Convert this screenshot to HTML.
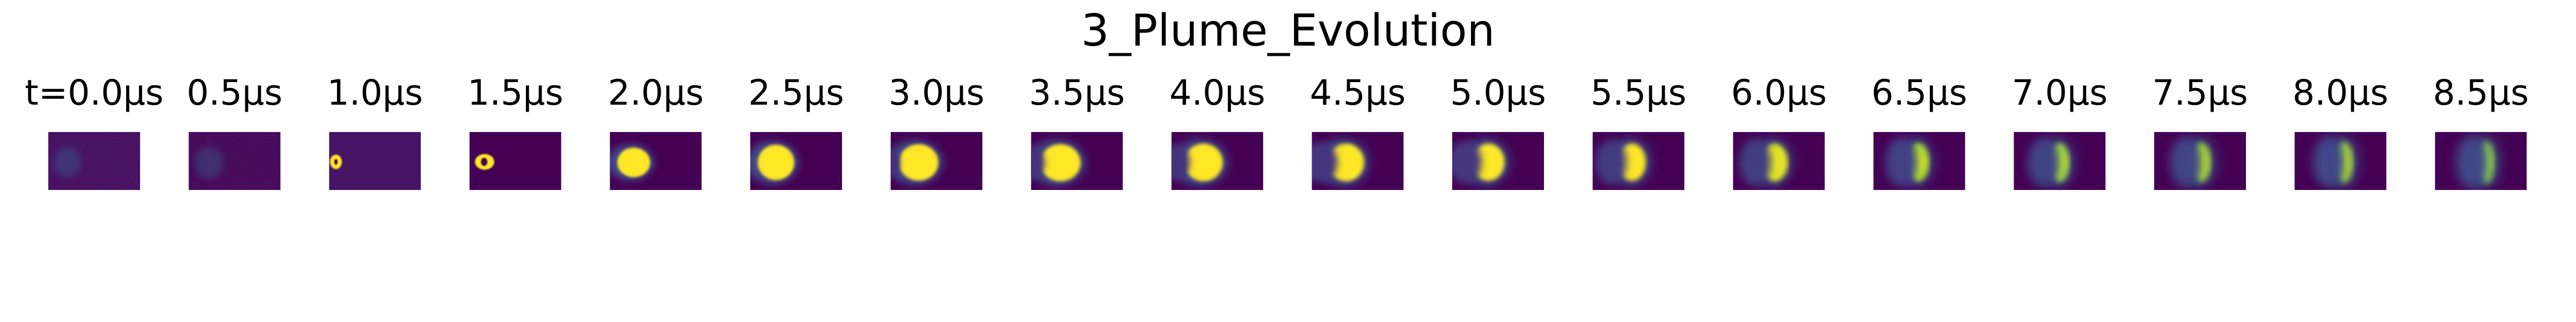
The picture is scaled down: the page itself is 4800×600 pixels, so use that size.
<!DOCTYPE html>
<html><head><meta charset="utf-8"><style>
html,body{margin:0;padding:0;background:#fff;}
svg{display:block;font-family:"DejaVu Sans","Liberation Sans",sans-serif;}
</style></head><body>
<svg id="fig" width="4800" height="600" viewBox="0 0 4800 600" xmlns="http://www.w3.org/2000/svg">
<defs>
<filter id="noise" x="0" y="0" width="100%" height="100%"><feTurbulence type="fractalNoise" baseFrequency="0.9" numOctaves="1" seed="3"/><feColorMatrix type="matrix" values="0 0 0 0 0.2  0 0 0 0 0.3  0 0 0 0 0.55  0 0 0 0.9 -0.35"/></filter>
</defs>
<text x="2400" y="85" font-size="82" text-anchor="middle">3_Plume_Evolution</text>
<g id="frames"></g>
</svg>
<script>
const times = [0.0,0.5,1.0,1.5,2.0,2.5,3.0,3.5,4.0,4.5,5.0,5.5,6.0,6.5,7.0,7.5,8.0,8.5];
const plumeBack  = [0.06,0.06,0.01,0.06,0.08,0.08,0.09,0.10,0.14,0.18,0.22,0.28,0.32,0.38,0.40,0.42,0.45,0.48];
const plumeFront = [0.36,0.38,0.14,0.27,0.44,0.48,0.52,0.54,0.56,0.57,0.57,0.58,0.59,0.60,0.60,0.61,0.63,0.64];
const plumeTop   = [0.25,0.25,0.39,0.38,0.27,0.22,0.21,0.21,0.20,0.20,0.20,0.20,0.20,0.19,0.19,0.18,0.17,0.16];
const plumeBot   = [0.78,0.80,0.64,0.65,0.78,0.83,0.84,0.85,0.85,0.85,0.84,0.84,0.85,0.85,0.86,0.86,0.87,0.88];
const peakLevel  = [0.30,0.28,1.0,1.0,1.0,1.0,1.0,1.0,1.0,1.0,1.0,1.0,0.95,0.88,0.85,0.86,0.86,0.82];
const carveX     = [0,0,0.075,0.16,0,0,-0.05,-0.01,0.03,0.08,0.14,0.20,0.24,0.30,0.32,0.34,0.37,0.40];
const carveRx    = [0,0,0.018,0.035,0,0,0.15,0.16,0.17,0.20,0.18,0.17,0.17,0.17,0.17,0.17,0.17,0.17];
const carveRy    = [0,0,0.05,0.07,0,0,0.25,0.28,0.30,0.34,0.36,0.38,0.40,0.42,0.42,0.43,0.44,0.45];
const bgLevel    = [0.02,0.0,0.05,0.0,0.0,0.0,0.0,0.0,0.0,0.0,0.0,0.0,0.0,0.0,0.0,0.0,0.0,0.0];

const VIR=['#440154','#482475','#414487','#355f8d','#2a788e','#21918c','#22a884','#44bf70','#7ad151','#bddf26','#fde725'];
function hex(c){return [1,3,5].map(i=>parseInt(c.substr(i,2),16));}
function viridis(t){t=Math.max(0,Math.min(1,t));const p=t*10,i=Math.min(9,Math.floor(p)),f=p-i;
 const a=hex(VIR[i]),b=hex(VIR[i+1]);return 'rgb('+a.map((v,k)=>Math.round(v+(b[k]-v)*f)).join(',')+')';}

const X0=90, STEP=261.6, W=171, TOP=246, H=108;
function xPos(i){return X0+i*STEP;}
const NS='http://www.w3.org/2000/svg';
const defs=document.querySelector('defs');
const g=document.getElementById('frames');
function el(tag,attrs,parent){const e=document.createElementNS(NS,tag);for(const k in attrs)e.setAttribute(k,attrs[k]);parent.appendChild(e);return e;}

times.forEach((t,i)=>{
 const x=xPos(i);
 const lbl=el('text',{x:x+W/2,y:195,'font-size':65,'text-anchor':'middle'},g);
 lbl.textContent=(i===0?'t=':'')+t.toFixed(1)+'\u00b5s';
 
 
 const cp=el('clipPath',{id:'c'+i},defs);el('rect',{x:x,y:TOP,width:W,height:H},cp);
 const blurS=i<2?6:(i<4?1.2:1.5+i*0.25);
 const f1=el('filter',{id:'b'+i,x:'-50%',y:'-50%',width:'200%',height:'200%'},defs);el('feGaussianBlur',{stdDeviation:blurS},f1);
 const f3=el('filter',{id:'k'+i,x:'-50%',y:'-50%',width:'200%',height:'200%'},defs);el('feGaussianBlur',{stdDeviation:i<4?1:3+i*0.4},f3);
 const f2=el('filter',{id:'h'+i,x:'-50%',y:'-50%',width:'200%',height:'200%'},defs);el('feGaussianBlur',{stdDeviation:4+i*0.6},f2);
 const fr=el('g',{'clip-path':'url(#c'+i+')'},g);
 
 
 el('rect',{x:x,y:TOP,width:W,height:H,fill:viridis(bgLevel[i])},fr);
 if(i<2){el('rect',{x:x,y:TOP,width:W,height:H,filter:'url(#noise)',opacity:0.7},fr);}
 const cx=x+W*(plumeBack[i]+plumeFront[i])/2, rx=W*(plumeFront[i]-plumeBack[i])/2;
 const cy=TOP+H*(plumeTop[i]+plumeBot[i])/2, ry=H*(plumeBot[i]-plumeTop[i])/2;
 if(i>=4){el('ellipse',{cx:cx-rx*0.2,cy:cy,rx:rx*1.3+4,ry:ry*1.12+3,fill:viridis(0.16+0.18*(i/17)),filter:'url(#h'+i+')'},fr);}
 const main=el('ellipse',{cx:cx,cy:cy,rx:rx,ry:ry,fill:viridis(peakLevel[i]),filter:'url(#b'+i+')'},fr);
 if(i<2)main.setAttribute('opacity','0.45');
 if(carveRx[i]>0){
  el('ellipse',{cx:x+W*carveX[i],cy:cy,rx:W*carveRx[i],ry:H*carveRy[i],fill:viridis(i<4?0.0:0.08+0.14*(i/17)),filter:'url(#k'+i+')'},fr);
 }
 if(i>=12){el('ellipse',{cx:x+W*plumeFront[i]-rx*0.45,cy:cy,rx:rx*0.3,ry:ry*0.5,fill:viridis(Math.min(1,peakLevel[i]+0.1)),filter:'url(#h'+i+')'},fr);}
});
</script>
</body></html>
